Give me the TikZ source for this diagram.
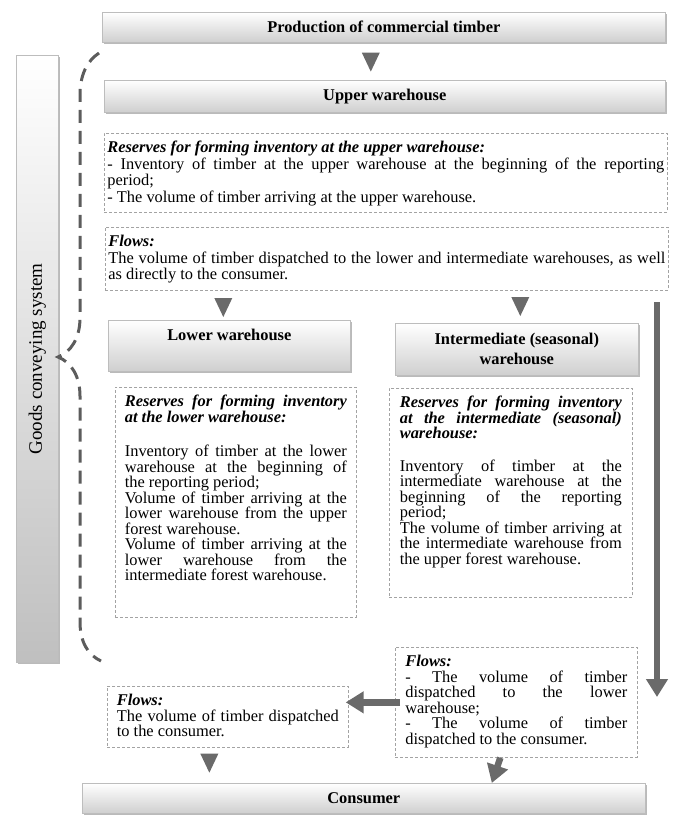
\documentclass[tikz,border=0pt]{standalone}
\usepackage{fontspec}
\setmainfont{Liberation Serif}
\usepackage{graphicx}
\usepackage{tikz}
\usetikzlibrary{calc,arrows.meta,shadows}
\setlength{\lineskiplimit}{-6pt}
\hyphenpenalty=10000
\tolerance=9999

\definecolor{edgegray}{HTML}{BDBDBD}
\definecolor{shadegray}{HTML}{CFCFCF}
\definecolor{dashgray}{HTML}{A3A3A3}
\definecolor{arrowgray}{HTML}{6A6A6A}
\definecolor{bracegray}{HTML}{5C5C5C}

\begin{document}
\begin{tikzpicture}[x=1pt,y=-1pt]
  \def\FS{16.4}
  \def\BS{15.5}
  \def\UBS{16.5}

  \tikzset{
      headbox/.style={draw=edgegray, line width=0.6pt, top color=white,
        bottom color=shadegray, inner sep=0pt, anchor=north west,
        align=center, font=\fontsize{\FS}{20}\selectfont\bfseries,
        drop shadow={shadow xshift=1.2pt, shadow yshift=-1.8pt,
          fill=black!45, opacity=0.6}},
      dbox/.style={draw=dashgray, line width=0.7pt, dash pattern=on 3pt off 2pt,
        fill=white, inner ysep=8pt, anchor=north west,
        font=\fontsize{\FS}{\BS}\selectfont},
      tri/.style={insert path={++(-9,0) -- ++(18,0) -- ++(-9,19) -- cycle}},
      fat/.style={draw=arrowgray, line width=6.5pt,
        -{Triangle[width=21pt,length=18pt]}},
  }

  \useasboundingbox (0,0) rectangle (674,815);

  \node[headbox, minimum width=563, minimum height=30] (prod) at (102,12)
    {Production of commercial timber};
  \node[headbox, minimum width=561, minimum height=32] (upper) at (104,80)
    {Upper warehouse};
  \node[headbox, bottom color=gray!50, minimum width=42, minimum height=607,
    font=\fontsize{19}{22}\selectfont] (goods) at (16,55)
    {\rotatebox{90}{Goods conveying system}};

  \node[dbox, inner xsep=3pt, font=\fontsize{\FS}{\UBS}\selectfont] (upres) at (104,133)
    {\parbox[t][63pt][t]{557pt}{%
      \textbf{\textit{Reserves for forming inventory at the upper warehouse:}}\par
      - Inventory of timber at the upper warehouse at the beginning of the reporting\linebreak
      period;\par
      - The volume of timber arriving at the upper warehouse.}};
  \node[dbox, inner xsep=3pt, font=\fontsize{\FS}{\UBS}\selectfont] (upflow) at (105,227)
    {\parbox[t][47pt][t]{557pt}{%
      \textbf{\textit{Flows:}}\par
      The volume of timber dispatched to the lower and intermediate warehouses, as well\linebreak
      as directly to the consumer.}};

  \node[headbox, minimum width=242, minimum height=51] (lower) at (108,320)
    {Lower warehouse\\[1pt]\mbox{}};
  \node[headbox, minimum width=243, minimum height=52] (inter) at (395,323)
    {Intermediate (seasonal)\\warehouse};

  \node[dbox, inner xsep=9.5pt] (lowres) at (115,387)
    {\parbox[t][214pt][t]{222pt}{%
      \textbf{\textit{Reserves for forming inventory\linebreak
      at the lower warehouse:}}\par\vspace{19pt}
      Inventory of timber at the lower\linebreak
      warehouse at the beginning of\linebreak
      the reporting period;\par
      Volume of timber arriving at the\linebreak
      lower warehouse from the upper\linebreak
      forest warehouse.\par
      Volume of timber arriving at the\linebreak
      lower warehouse from the\linebreak
      intermediate forest warehouse.}};
  \node[dbox, inner xsep=10.5pt] (intres) at (389,388)
    {\parbox[t][193pt][t]{222pt}{%
      \textbf{\textit{Reserves for forming inventory\linebreak
      at the intermediate (seasonal)\linebreak
      warehouse:}}\par\vspace{17pt}
      Inventory of timber at the\linebreak
      intermediate warehouse at the\linebreak
      beginning of the reporting\linebreak
      period;\par
      The volume of timber arriving at\linebreak
      the intermediate warehouse from\linebreak
      the upper forest warehouse.}};

  \node[dbox, inner xsep=10pt] (intflow) at (395,647)
    {\parbox[t][94pt][t]{222pt}{%
      \textbf{\textit{Flows:}}\par
      - The volume of timber\linebreak
      dispatched to the lower\linebreak
      warehouse;\par
      - The volume of timber\linebreak
      dispatched to the consumer.}};
  \node[dbox, inner xsep=9.5pt] (lowflow) at (107,686)
    {\parbox[t][45pt][t]{222pt}{%
      \textbf{\textit{Flows:}}\par
      The volume of timber dispatched\linebreak
      to the consumer.}};

  \node[headbox, minimum width=563, minimum height=30] (cons) at (82,783)
    {Consumer};

  \fill[arrowgray] ($(prod.south)+(-13,10)$) [tri];
  \fill[arrowgray] ($(lower.north)+(-6,-22)$) [tri];
  \fill[arrowgray] ($(inter.north)+(3.5,-26)$) [tri];
  \fill[arrowgray] ($(lowflow.south)+(-18.5,6)$) [tri];

  \draw[bracegray, line width=3pt, dash pattern=on 13pt off 8pt]
    (99,53) .. controls (87,61) and (80,75) .. (80,95) -- (80,318)
    .. controls (80,338) and (71,352) .. (58,357)
    .. controls (71,362) and (80,376) .. (80,396) -- (80,622)
    .. controls (80,642) and (88,655) .. (101,661);

  \coordinate (rtop) at (657,302);
  \coordinate (rbot) at (657,697);
  \draw[fat, line width=5.5pt] (rtop) -- (rbot);
  \draw[fat, shorten <=-5pt, shorten >=-3pt]
    (intflow.west) -- (intflow.west -| lowflow.east);
  \draw[fat] ([xshift=-16pt]intflow.south) -- ([xshift=128pt]cons.north);
\end{tikzpicture}
\end{document}
